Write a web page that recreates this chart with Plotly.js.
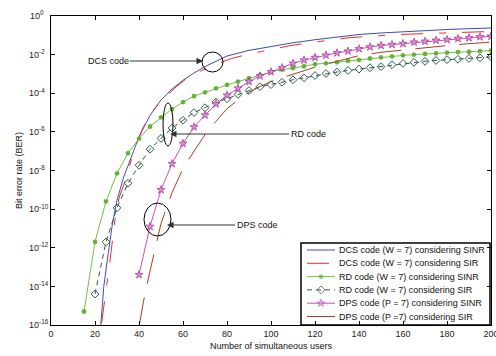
<!DOCTYPE html>
<html><head><meta charset="utf-8">
<script src="https://cdn.plot.ly/plotly-3.0.1.min.js"></script>
<style>html,body{margin:0;padding:0;background:#fff}#chart{width:496px;height:356px}</style>
</head><body><div id="chart"></div>
<script>
// ---- data ----
const seriesNames = [
  'DCS code (W = 7) considering SINR',
  'DCS code (W = 7) considering SIR',
  'RD code (W = 7) considering SINR',
  'RD code (W = 7) considering SIR',
  'DPS code (P = 7) considering SINR',
  'DPS code (P =7) considering SIR'
];

const xDcsSinr = [22,24,26,28,30,33,36,40,45,50,55,60,65,70,75,80,90,100,110,120,130,140,150,160,170,180,190,200];
const berDcsSinr = [1.26e-17,1.0e-14,5.0e-13,2.0e-11,2.8e-10,4.5e-9,3.5e-8,5.6e-7,7.1e-6,4.5e-5,1.66e-4,4.7e-4,1.12e-3,2.4e-3,4.5e-3,8.5e-3,1.66e-2,2.7e-2,4.1e-2,5.9e-2,8.3e-2,1.1e-1,1.32e-1,1.55e-1,1.78e-1,2.0e-1,2.2e-1,2.4e-1];

const xDcsSir = [23,25,27,29,31,34,38,42,46,50,57,62,68,75,82,90,95,100,108,115,122,130,135,143,150,160,170,180,190,200];
const berDcsSir = [1.26e-16,5.0e-15,3.2e-13,2.5e-11,4.0e-10,3.5e-9,1.41e-7,1.78e-6,1.12e-5,4.0e-5,2.2e-4,6.3e-4,1.41e-3,3.2e-3,6.3e-3,1.07e-2,1.41e-2,1.82e-2,2.8e-2,3.8e-2,4.9e-2,6.3e-2,7.4e-2,8.7e-2,9.8e-2,1.12e-1,1.23e-1,1.35e-1,1.48e-1,1.58e-1];

const xRdSinr = [15,20,25,30,35,40,45,50,55,60,65,70,75,80,85,90,95,100,105,110,115,120,125,130,135,140,145,150,155,160,165,170,175,180,185,190,195,200];
const berRdSinr = [5.0e-16,2.0e-12,2.5e-10,7.1e-9,7.9e-8,4.5e-7,1.9e-6,5.6e-6,1.5e-5,3.5e-5,7.1e-5,1.1e-4,1.8e-4,2.7e-4,4.0e-4,6.0e-4,8.9e-4,1.26e-3,1.66e-3,2.0e-3,2.5e-3,3.2e-3,3.5e-3,4.0e-3,4.7e-3,5.4e-3,6.3e-3,7.2e-3,8.1e-3,9.1e-3,1.0e-2,1.1e-2,1.17e-2,1.26e-2,1.35e-2,1.41e-2,1.51e-2,1.62e-2];

const xRdSir = [20,25,30,35,40,45,50,55,60,65,70,75,80,85,90,95,100,105,110,115,120,125,130,135,140,145,150,155,160,165,170,175,180,185,190,195,200];
const berRdSir = [4.0e-15,2.0e-12,1.17e-10,2.2e-9,1.86e-8,1.26e-7,4.6e-7,1.58e-6,4.0e-6,1.0e-5,1.78e-5,3.5e-5,5.2e-5,8.7e-5,1.38e-4,2.2e-4,2.8e-4,3.7e-4,5.0e-4,6.3e-4,8.3e-4,1.05e-3,1.26e-3,1.51e-3,1.78e-3,2.1e-3,2.4e-3,3.0e-3,3.5e-3,4.0e-3,4.5e-3,5.0e-3,5.5e-3,5.75e-3,6.3e-3,6.8e-3,7.6e-3];

const xDpsSinr = [40,45,50,55,60,65,70,75,80,85,90,95,100,105,110,115,120,125,130,135,140,145,150,155,160,165,170,175,180,185,190,195,200];
const berDpsSinr = [4.0e-14,1.26e-11,1.0e-9,2.24e-8,2.5e-7,1.78e-6,7.4e-6,2.8e-5,7.8e-5,1.82e-4,4.0e-4,7.8e-4,1.29e-3,2.1e-3,3.5e-3,5.2e-3,7.1e-3,9.3e-3,1.23e-2,1.51e-2,2.0e-2,2.5e-2,2.95e-2,3.3e-2,3.7e-2,4.4e-2,4.9e-2,5.5e-2,6.0e-2,6.8e-2,7.4e-2,8.3e-2,8.9e-2];

const xDpsSir = [40,42,45,50,55,60,65,70,75,80,85,90,95,100,105,110,120,130,140,150,160,170,180,190,200];
const berDpsSir = [7.9e-17,1.58e-15,6.3e-14,1.78e-11,7.1e-10,1.26e-8,1.0e-7,7.1e-7,3.5e-6,1.58e-5,4.5e-5,1.12e-4,2.24e-4,4.0e-4,6.3e-4,9.5e-4,2.24e-3,4.5e-3,8.9e-3,1.32e-2,1.74e-2,2.34e-2,2.95e-2,3.7e-2,4.4e-2];

const xTickVals = [0,20,40,60,80,100,120,140,160,180,200];
const yTickVals = [1,1e-2,1e-4,1e-6,1e-8,1e-10,1e-12,1e-14,1e-16];
// trailing figure/thin spaces keep the "10" bases lined up on the left, as in the reference
const yTickText = ['10<sup>0\u2007\u2009</sup>','10<sup>-2\u2007</sup>','10<sup>-4\u2007</sup>','10<sup>-6\u2007</sup>','10<sup>-8\u2007</sup>','10<sup>-10</sup>','10<sup>-12</sup>','10<sup>-14</sup>','10<sup>-16</sup>'];

// ---- styling / layout ----
const FONT = 'Liberation Sans, Arial, Helvetica, sans-serif';
const W = 496, H = 356;
const M = {l:51, r:5, t:16, b:31};
const plotW = W - M.l - M.r, plotH = H - M.t - M.b;
const px = p => (p - M.l) / plotW;          // pixel x -> paper x
const py = p => (H - M.b - p) / plotH;      // pixel y -> paper y

const styles = [
  {mode:'lines', line:{color:'#3b4fb0', width:1}},
  {mode:'lines', line:{color:'#f02a2a', width:1, dash:'22px,16px,7px,16px'}},
  {mode:'lines+markers', line:{color:'#72c044', width:1}, marker:{symbol:'asterisk-open', size:4, color:'#62b034', line:{color:'#62b034', width:1.3}}},
  {mode:'lines+markers', line:{color:'#2f5a4a', width:1, dash:'5px,4px'}, marker:{symbol:'diamond-open', size:6, color:'#2f5a4a', line:{color:'#2f5a4a', width:1}}},
  {mode:'lines+markers', line:{color:'#c452b8', width:1}, marker:{symbol:'star', size:6, color:'#d98fd2', line:{color:'#a8309a', width:0.7}}},
  {mode:'lines', line:{color:'#a3401e', width:1, dash:'30px,14px'}}
];
const xs = [xDcsSinr, xDcsSir, xRdSinr, xRdSir, xDpsSinr, xDpsSir];
const ys = [berDcsSinr, berDcsSir, berRdSinr, berRdSir, berDpsSinr, berDpsSir];

const traces = xs.map((x, i) => Object.assign({type:'scatter', x:x, y:ys[i], name:seriesNames[i], showlegend:false, hoverinfo:'skip'}, JSON.parse(JSON.stringify(styles[i]))));

// ---- hand-built legend (Plotly's legend rows are too tall) ----
const legBox = {x0:301, x1:490, y0:243, y1:325};
const rowY0 = 250, rowStep = 13.3;
const sampleX0 = 307, sampleX1 = 335, textX = 337;
const shapes = [];
const annotations = [];
seriesNames.forEach((name, i) => {
  const ry = py(rowY0 + rowStep * i);
  const s = JSON.parse(JSON.stringify(styles[i]));
  const t = Object.assign({type:'scatter', xaxis:'x2', yaxis:'y2', showlegend:false, hoverinfo:'skip',
    x:[px(sampleX0), px((sampleX0+sampleX1)/2), px(sampleX1)], y:[ry, ry, ry]}, s);
  if (s.marker) t.marker.size = [0, s.marker.size, 0];
  traces.push(t);
  annotations.push({xref:'paper', yref:'paper', x:px(textX), y:ry, xanchor:'left', yanchor:'middle',
    text:name, showarrow:false, font:{family:FONT, size:9, color:'#111'}});
});
shapes.push({type:'rect', xref:'paper', yref:'paper', x0:px(legBox.x0), x1:px(legBox.x1), y0:py(legBox.y1), y1:py(legBox.y0), line:{color:'#000', width:1.5}, layer:'above'});

// ---- callouts ----
const callouts = [
  {text:'DCS code', tip:[203, 61], ax:-95, ell:[202,52,223,72]},
  {text:'RD code',  tip:[170, 134], ax:138, ell:[163,103,173,146]},
  {text:'DPS code', tip:[167, 225], ax:90, ell:[144,203,171,236]}
];
callouts.forEach(c => {
  annotations.push({xref:'paper', yref:'paper', x:px(c.tip[0]), y:py(c.tip[1]), ax:c.ax, ay:0,
    text:c.text, showarrow:true, arrowhead:2, arrowsize:1.3, arrowwidth:1, arrowcolor:'#333',
    font:{family:FONT, size:9, color:'#111'}});
  shapes.push({type:'circle', xref:'paper', yref:'paper', x0:px(c.ell[0]), x1:px(c.ell[2]), y0:py(c.ell[3]), y1:py(c.ell[1]), line:{color:'#000', width:1}, layer:'above'});
});

const axisCommon = {showline:true, linecolor:'#000', linewidth:1, mirror:'allticks', ticks:'inside', ticklen:4, tickcolor:'#000',
  showgrid:false, zeroline:false, ticklabeloverflow:'allow', tickfont:{family:FONT, size:9, color:'#222'}};

const layout = {
  width:W, height:H, margin:M, paper_bgcolor:'#fff', plot_bgcolor:'#fff', showlegend:false,
  font:{family:FONT, size:9, color:'#111'},
  xaxis:Object.assign({}, axisCommon, {range:[0,200], tickmode:'array', tickvals:xTickVals,
    title:{text:'Number of simultaneous users', font:{family:FONT, size:9, color:'#111'}, standoff:4}}),
  yaxis:Object.assign({}, axisCommon, {type:'log', range:[-16,0], tickmode:'array', tickvals:yTickVals, ticktext:yTickText,
    title:{text:'Bit error rate (BER)', font:{family:FONT, size:9, color:'#111'}, standoff:4}}),
  xaxis2:{overlaying:'x', range:[0,1], visible:false, fixedrange:true},
  yaxis2:{overlaying:'y', range:[0,1], visible:false, fixedrange:true},
  shapes:shapes, annotations:annotations
};

Plotly.newPlot('chart', traces, layout, {staticPlot:true, displayModeBar:false});
</script>
</body></html>
